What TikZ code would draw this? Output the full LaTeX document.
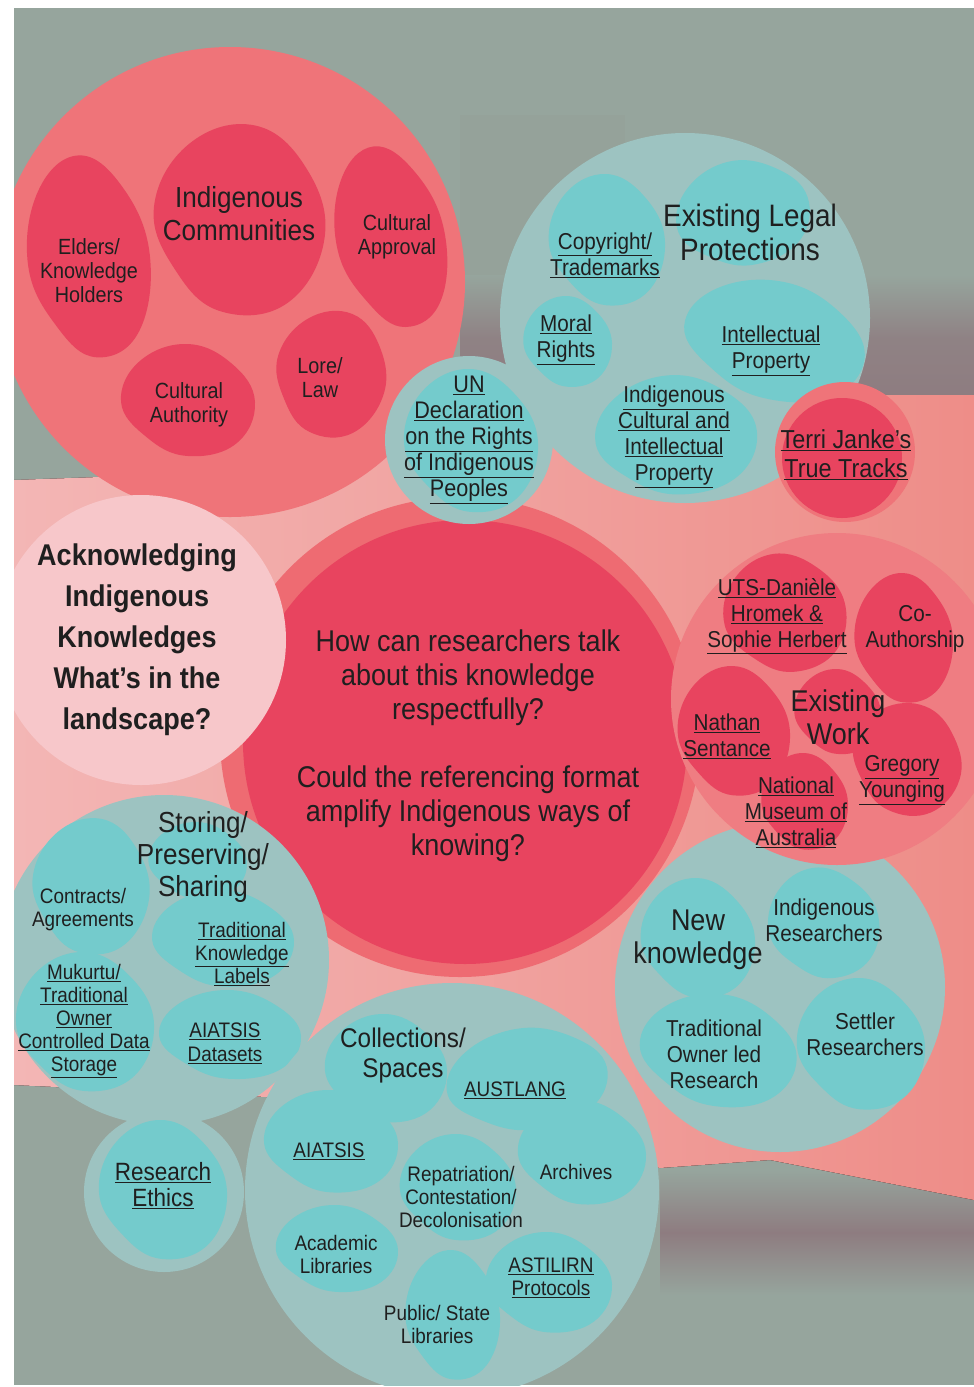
\documentclass[tikz,border=0pt]{standalone}
\usepackage{fontspec}
\setmainfont{Liberation Sans}[FakeStretch=0.9]
\usepackage{xcolor}

\definecolor{bggreen}{HTML}{96A59D}
\definecolor{mauve}{HTML}{8E7C80}
\definecolor{pinkl}{HTML}{F3B6B5}
\definecolor{pinkr}{HTML}{EE8D88}
\definecolor{salmon}{HTML}{EF7479}
\definecolor{crimson}{HTML}{E8445F}
\definecolor{ackpink}{HTML}{F7C7CA}
\definecolor{tealout}{HTML}{9DC3C1}
\definecolor{tealblob}{HTML}{74CBCC}
\definecolor{ringsalmon}{HTML}{EE6B72}
\definecolor{workout}{HTML}{EF7D82}
\definecolor{ink}{HTML}{1F1F1F}

% 不规则色块: {颜色}{x}{y}{rx}{ry}{角度}
\newcommand{\blob}[6]{%
  \begin{scope}[shift={(#2,#3)}, rotate=#6]
    \fill[#1] plot[smooth cycle, tension=0.7] coordinates {
      ({#4},0) ({0.72*#4},{0.72*#5}) (0,{0.93*#5}) ({-0.60*#4},{0.60*#5})
      ({-0.97*#4},0) ({-0.70*#4},{-0.70*#5}) (0,{-#5}) ({0.66*#4},{-0.66*#5})};
  \end{scope}}
\newcommand{\lnk}[1]{\underline{#1}}

\begin{document}
\begin{tikzpicture}[x=1pt, y=-1pt,
    lbl/.style={align=center, text=ink, inner sep=0pt, font=\fontsize{22}{24}\selectfont},
    lblm/.style={lbl, font=\fontsize{23}{26}\selectfont},
    head/.style={lbl, font=\fontsize{30}{33}\selectfont}
]
    \useasboundingbox (0,0) rectangle (974,1387);
    \fill[white] (0,0) rectangle (974,1387);

    \begin{scope}
    \clip (14,8) rectangle (974,1385);

    % 背景
    \fill[bggreen] (14,8) rectangle (974,1385);
    \fill[bggreen!80!mauve, opacity=0.35] (460,115) rectangle (625,330);
    \fill[top color=bggreen, bottom color=mauve, middle color=mauve!85!bggreen] (460,275) rectangle (974,400);
    \fill[top color=bggreen, bottom color=bggreen, middle color=mauve] (660,1170) rectangle (974,1295);
    \fill[left color=pinkl, right color=pinkr] (14,480) -- (300,470) -- (470,395) -- (974,395)
        -- (974,1200) -- (770,1160) -- (660,1168) -- (330,1100) -- (14,1085) -- cycle;

    % Indigenous Communities
    \fill[salmon] (230,282) circle[radius=235pt];
    \blob{crimson}{88}{260}{62}{105}{5}
    \blob{crimson}{238}{222}{88}{98}{-10}
    \blob{crimson}{390}{240}{55}{95}{10}
    \blob{crimson}{187}{402}{68}{58}{0}
    \blob{crimson}{330}{375}{57}{65}{-20}

    % Existing Legal Protections
    \fill[tealout] (685,318) circle[radius=185pt];
    \blob{tealblob}{606}{242}{59}{68}{0}
    \blob{tealblob}{742}{215}{68}{55}{15}
    \blob{tealblob}{567}{343}{45}{47}{0}
    \blob{tealblob}{773}{342}{93}{61}{-10}
    \blob{tealblob}{675}{437}{82}{62}{5}

    % 中心问题
    \fill[ringsalmon] (460,737) circle[radius=240pt];
    \fill[crimson] (465,742) circle[radius=222pt];

    % Acknowledging
    \fill[ackpink] (141,640) circle[radius=145pt];

    % New knowledge
    \fill[tealout] (780,987) circle[radius=165pt];
    \blob{tealblob}{697}{940}{58}{62}{0}
    \blob{tealblob}{823}{925}{56}{58}{10}
    \blob{tealblob}{717}{1052}{80}{58}{-5}
    \blob{tealblob}{860}{1046}{65}{68}{0}

    % Existing Work
    \fill[workout] (837,699) circle[radius=166pt];
    \blob{crimson}{784}{615}{62}{62}{10}
    \blob{crimson}{903}{640}{50}{67}{0}
    \blob{crimson}{837}{713}{44}{44}{0}
    \blob{crimson}{733}{733}{57}{67}{0}
    \blob{crimson}{906}{760}{57}{57}{-20}
    \blob{crimson}{804}{803}{44}{50}{0}

    % Terri Janke
    \fill[salmon] (845,452) circle[radius=70pt];
    \fill[crimson] (842,458) circle[radius=60pt];

    % UN Declaration
    \fill[tealout] (469,440) circle[radius=84pt];
    \blob{tealblob}{470}{443}{68}{74}{0}

    % Storing/Preserving/Sharing
    \fill[tealout] (164,960) circle[radius=165pt];
    \blob{tealblob}{90}{888}{60}{70}{-10}
    \blob{tealblob}{197}{862}{50}{40}{0}
    \blob{tealblob}{222}{940}{72}{50}{0}
    \blob{tealblob}{84}{1024}{70}{72}{0}
    \blob{tealblob}{229}{1036}{72}{46}{0}

    % Research Ethics
    \fill[tealout] (164,1192) circle[radius=80pt];
    \blob{tealblob}{162}{1192}{65}{72}{0}

    % Collections/Spaces
    \fill[tealout] (452,1190) circle[radius=207pt];
    \blob{tealblob}{385}{1070}{62}{56}{0}
    \blob{tealblob}{526}{1081}{82}{53}{10}
    \blob{tealblob}{330}{1143}{68}{53}{0}
    \blob{tealblob}{457}{1189}{59}{55}{0}
    \blob{tealblob}{581}{1154}{65}{54}{0}
    \blob{tealblob}{336}{1250}{62}{45}{0}
    \blob{tealblob}{548}{1284}{64}{52}{0}
    \blob{tealblob}{452}{1317}{48}{67}{0}
    \end{scope}

    % 文字
    \node[lbl] (elders) at (89,271) {Elders/\\Knowledge\\Holders};
    \node[lbl, font=\fontsize{29}{33}\selectfont] (communities) at (239,214) {Indigenous\\Communities};
    \node[lbl] (approval) at (397,237) {Cultural\\Approval};
    \node[lbl] (authority) at (189,405) {Cultural\\Authority};
    \node[lbl] (lore) at (320,378) {Lore/\\Law};

    \node[lbl, font=\fontsize{31}{34}\selectfont] (legal) at (750,232) {Existing Legal\\Protections};
    \node[lblm] (copyright) at (605,255) {\lnk{Copyright/}\\\lnk{Trademarks}};
    \node[lblm] (moral) at (566,340) {\lnk{Moral}\\\lnk{Rights}};
    \node[lblm] (ip) at (771,351) {\lnk{Intellectual}\\\lnk{Property}};
    \node[lblm] (icip) at (674,437) {\lnk{Indigenous}\\\lnk{Cultural and}\\\lnk{Intellectual}\\\lnk{Property}};

    \node[lblm, font=\fontsize{24}{26}\selectfont] (un) at (469,440) {\lnk{UN}\\\lnk{Declaration}\\\lnk{on the Rights}\\\lnk{of Indigenous}\\\lnk{Peoples}};
    \node[lbl, font=\fontsize{26}{29}\selectfont] (terri) at (846,455) {\lnk{Terri Janke's}\\\lnk{True Tracks}};

    \node[lbl, font=\fontsize{30}{41}\selectfont\bfseries] (ack) at (137,640) {Acknowledging\\Indigenous\\Knowledges\\What's in the\\landscape?};

    \node[lbl, font=\fontsize{30}{34}\selectfont] (question) at (468,746) {How can researchers talk\\about this knowledge\\respectfully?\\[34pt]Could the referencing format\\amplify Indigenous ways of\\knowing?};

    \node[lblm] (uts) at (777,616) {\lnk{UTS-Danièle}\\\lnk{Hromek \&}\\\lnk{Sophie Herbert}};
    \node[lblm] (coauthor) at (915,629) {Co-\\Authorship};
    \node[head] (existwork) at (838,717) {Existing\\Work};
    \node[lblm] (nathan) at (727,736) {\lnk{Nathan}\\\lnk{Sentance}};
    \node[lblm] (gregory) at (902,780) {\lnk{Gregory}\\\lnk{Younging}};
    \node[lblm] (nma) at (796,812) {\lnk{National}\\\lnk{Museum of}\\\lnk{Australia}};

    \node[head] (newknow) at (698,940) {New\\knowledge};
    \node[lblm] (indres) at (824,920) {Indigenous\\Researchers};
    \node[lblm] (toled) at (714,1054) {Traditional\\Owner led\\Research};
    \node[lblm] (settler) at (865,1034) {Settler\\Researchers};

    \node[lbl, font=\fontsize{29}{32}\selectfont] (storing) at (203,857) {Storing/\\Preserving/\\Sharing};
    \node[lbl, font=\fontsize{21}{23}\selectfont] (contracts) at (83,910) {Contracts/\\Agreements};
    \node[lbl, font=\fontsize{21}{23}\selectfont] (tklabels) at (242,954) {\lnk{Traditional}\\\lnk{Knowledge}\\\lnk{Labels}};
    \node[lbl, font=\fontsize{21}{23}\selectfont] (mukurtu) at (84,1021) {\lnk{Mukurtu/}\\\lnk{Traditional}\\\lnk{Owner}\\\lnk{Controlled Data}\\\lnk{Storage}};
    \node[lbl, font=\fontsize{21}{24}\selectfont] (datasets) at (225,1043) {\lnk{AIATSIS}\\\lnk{Datasets}};

    \node[lbl, font=\fontsize{25}{26}\selectfont] (ethics) at (163,1186) {\lnk{Research}\\\lnk{Ethics}};

    \node[lbl, font=\fontsize{27}{30}\selectfont] (collections) at (403,1056) {Collections/\\Spaces};
    \node[lbl, font=\fontsize{21}{23}\selectfont] (austlang) at (515,1090) {\lnk{AUSTLANG}};
    \node[lbl, font=\fontsize{21}{23}\selectfont] (aiatsis) at (329,1151) {\lnk{AIATSIS}};
    \node[lbl, font=\fontsize{21}{23}\selectfont] (repat) at (461,1197) {Repatriation/\\Contestation/\\Decolonisation};
    \node[lbl, font=\fontsize{21}{23}\selectfont] (archives) at (576,1172) {Archives};
    \node[lbl, font=\fontsize{21}{23}\selectfont] (academic) at (336,1254) {Academic\\Libraries};
    \node[lbl, font=\fontsize{21}{23}\selectfont] (astilirn) at (551,1278) {\lnk{ASTILIRN}\\\lnk{Protocols}};
    \node[lbl, font=\fontsize{21}{23}\selectfont] (public) at (437,1324) {Public/ State\\Libraries};
\end{tikzpicture}
\end{document}
